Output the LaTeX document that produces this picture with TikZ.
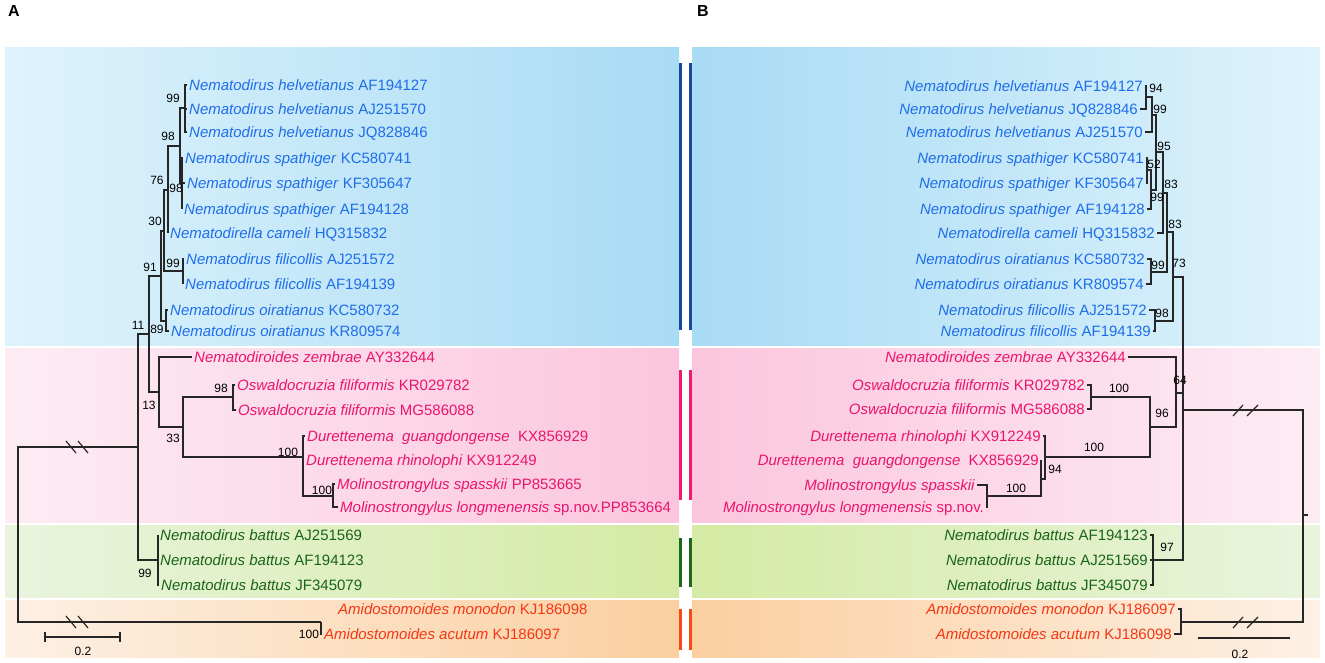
\documentclass[tikz,border=0pt]{standalone}
\usepackage{fontspec}
\setmainfont{Liberation Sans}
\definecolor{bluL}{RGB}{223,243,252}
\definecolor{bluD}{RGB}{168,219,244}
\definecolor{pnkL}{RGB}{253,236,244}
\definecolor{pnkD}{RGB}{251,198,221}
\definecolor{grnL}{RGB}{233,244,222}
\definecolor{grnD}{RGB}{213,234,164}
\definecolor{orgL}{RGB}{253,240,228}
\definecolor{orgD}{RGB}{251,207,160}
\definecolor{txblu}{RGB}{30,110,235}
\definecolor{txpnk}{RGB}{235,20,110}
\definecolor{txgrn}{RGB}{25,100,25}
\definecolor{txorg}{RGB}{245,55,20}
\definecolor{barblu}{RGB}{25,70,165}
\definecolor{barpnk}{RGB}{240,25,110}
\definecolor{bargrn}{RGB}{25,105,30}
\definecolor{barorg}{RGB}{245,75,25}

\begin{document}
\begin{tikzpicture}[x=1pt,y=-1pt,
  tipa/.style={anchor=west,inner sep=2pt,text height=11pt,text depth=0pt,
    font=\fontsize{15}{18}\selectfont},
  tipb/.style={tipa,anchor=east},
  bs/.style={inner sep=0pt,font=\fontsize{12}{14}\selectfont},
  br/.style={line width=1.2pt,black!85},
  elbow/.style={to path={|- (\tikztotarget) \tikztonodes}},
  bar/.style={line width=3pt}]

\useasboundingbox (0,0) rectangle (1325,663);

% colour bands
\shade[left color=bluL,right color=bluD] (5,48) rectangle (679,345);
\shade[left color=pnkL,right color=pnkD] (5,348) rectangle (679,522);
\shade[left color=grnL,right color=grnD] (5,525) rectangle (679,597);
\shade[left color=orgL,right color=orgD] (5,600) rectangle (679,657);
\shade[left color=bluD,right color=bluL] (692,48) rectangle (1320,345);
\shade[left color=pnkD,right color=pnkL] (692,348) rectangle (1320,522);
\shade[left color=grnD,right color=grnL] (692,525) rectangle (1320,597);
\shade[left color=orgD,right color=orgL] (692,600) rectangle (1320,657);

% clade bars
\foreach \x in {680.5,690.5}{
  \draw[bar,barblu] (\x,63) -- (\x,330);
  \draw[bar,barpnk] (\x,370) -- (\x,500);
  \draw[bar,bargrn] (\x,538) -- (\x,587);
  \draw[bar,barorg] (\x,609) -- (\x,650);
}

\node[font=\bfseries\fontsize{16}{18}\selectfont] (pa) at (14,11) {A};
\node[font=\bfseries\fontsize{16}{18}\selectfont] (pb) at (703,11) {B};

% ---- tree A ----
\node[tipa,txblu] (a1) at (187,85) {\textit{Nematodirus helvetianus} AF194127};
\node[tipa,txblu] (a2) at (187,109) {\textit{Nematodirus helvetianus} AJ251570};
\node[tipa,txblu] (a3) at (187,132) {\textit{Nematodirus helvetianus} JQ828846};
\node[tipa,txblu] (a4) at (183,158) {\textit{Nematodirus spathiger} KC580741};
\node[tipa,txblu] (a5) at (185,183) {\textit{Nematodirus spathiger} KF305647};
\node[tipa,txblu] (a6) at (182,209) {\textit{Nematodirus spathiger} AF194128};
\node[tipa,txblu] (a7) at (168,233) {\textit{Nematodirella cameli} HQ315832};
\node[tipa,txblu] (a8) at (184,259) {\textit{Nematodirus filicollis} AJ251572};
\node[tipa,txblu] (a9) at (183,284) {\textit{Nematodirus filicollis} AF194139};
\node[tipa,txblu] (a10) at (168,310) {\textit{Nematodirus oiratianus} KC580732};
\node[tipa,txblu] (a11) at (169,331) {\textit{Nematodirus oiratianus} KR809574};
\node[tipa,txpnk] (a12) at (192,357) {\textit{Nematodiroides zembrae} AY332644};
\node[tipa,txpnk] (a13) at (235,385) {\textit{Oswaldocruzia filiformis} KR029782};
\node[tipa,txpnk] (a14) at (236,410) {\textit{Oswaldocruzia filiformis} MG586088};
\node[tipa,txpnk] (a15) at (305,436) {\textit{Durettenema\ \ guangdongense}\ \ KX856929};
\node[tipa,txpnk] (a16) at (304,460) {\textit{Durettenema rhinolophi} KX912249};
\node[tipa,txpnk] (a17) at (335,484) {\textit{Molinostrongylus spasskii} PP853665};
\node[tipa,txpnk] (a18) at (338,507) {\textit{Molinostrongylus longmenensis} sp.nov.PP853664};
\node[tipa,txgrn] (a19) at (158,535) {\textit{Nematodirus battus} AJ251569};
\node[tipa,txgrn] (a20) at (158,560) {\textit{Nematodirus battus} AF194123};
\node[tipa,txgrn] (a21) at (159,585) {\textit{Nematodirus battus} JF345079};
\node[tipa,txorg] (a22) at (336,609) {\textit{Amidostomoides monodon} KJ186098};
\node[tipa,txorg] (a23) at (322,634) {\textit{Amidostomoides acutum} KJ186097};

\coordinate (nh) at (185,108);
\coordinate (ns) at (182,183);
\coordinate (n98) at (180,146);
\coordinate (n76) at (168,190);
\coordinate (nf) at (183,271);
\coordinate (n30) at (164,231);
\coordinate (no) at (166,321);
\coordinate (n91) at (161,276);
\coordinate (nosw) at (233,397);
\coordinate (nmol) at (333,496);
\coordinate (ndur) at (303,457);
\coordinate (n33) at (183,427);
\coordinate (n13) at (159,392);
\coordinate (n11) at (149,334);
\coordinate (nbat) at (158,560);
\coordinate (nin) at (138,447);
\coordinate (namid) at (321,622);
\coordinate (nroot) at (18,534);

\path[br]
  (nh) edge[elbow] (a1.west) edge[elbow] (a2.west) edge[elbow] (a3.west)
  (ns) edge[elbow] (a4.west) edge[elbow] (a5.west) edge[elbow] (a6.west)
  (n98) edge[elbow] (nh) edge[elbow] (ns)
  (n76) edge[elbow] (n98) edge[elbow] (a7.west)
  (nf) edge[elbow] (a8.west) edge[elbow] (a9.west)
  (n30) edge[elbow] (n76) edge[elbow] (nf)
  (no) edge[elbow] (a10.west) edge[elbow] (a11.west)
  (n91) edge[elbow] (n30) edge[elbow] (no)
  (nosw) edge[elbow] (a13.west) edge[elbow] (a14.west)
  (nmol) edge[elbow] (a17.west) edge[elbow] (a18.west)
  (ndur) edge[elbow] (a15.west) edge[elbow] (a16.west) edge[elbow] (nmol)
  (n33) edge[elbow] (nosw) edge[elbow] (ndur)
  (n13) edge[elbow] (a12.west) edge[elbow] (n33)
  (n11) edge[elbow] (n91) edge[elbow] (n13)
  (nbat) edge[elbow] (a19.west) edge[elbow] (a20.west) edge[elbow] (a21.west)
  (nin) edge[elbow] (n11) edge[elbow] (nbat)
  (namid) edge[elbow] (a23.west)
  (nroot) edge[elbow] (nin) edge[elbow] (namid);

% breaks on the long branches
\draw[br] (66,441) -- (76,453) (78,441) -- (88,453);
\draw[br] (66,616) -- (76,628) (78,616) -- (88,628);

\node[bs] (s1) at (173,98) {99};
\node[bs] (s2) at (168,136) {98};
\node[bs] (s3) at (176,188) {98};
\node[bs] (s4) at (157,180) {76};
\node[bs] (s5) at (155,221) {30};
\node[bs] (s6) at (173,263) {99};
\node[bs] (s7) at (150,267) {91};
\node[bs] (s8) at (157,329) {89};
\node[bs] (s9) at (138,325) {11};
\node[bs] (s10) at (149,405) {13};
\node[bs] (s11) at (173,438) {33};
\node[bs] (s12) at (221,388) {98};
\node[bs] (s13) at (288,452) {100};
\node[bs] (s14) at (322,490) {100};
\node[bs] (s15) at (145,573) {99};
\node[bs] (s16) at (309,634) {100};

% scale bar A
\coordinate (sa1) at (45,637);
\coordinate (sa2) at (120,637);
\draw[br] (sa1) -- (sa2) ([yshift=-5pt]sa1) -- ([yshift=5pt]sa1)
  ([yshift=-5pt]sa2) -- ([yshift=5pt]sa2);
\node[bs] (sca) at (83,651) {0.2};

% ---- tree B ----
\node[tipb,txblu] (b1) at (1145,86) {\textit{Nematodirus helvetianus} AF194127};
\node[tipb,txblu] (b2) at (1140,109) {\textit{Nematodirus helvetianus} JQ828846};
\node[tipb,txblu] (b3) at (1145,132) {\textit{Nematodirus helvetianus} AJ251570};
\node[tipb,txblu] (b4) at (1146,158) {\textit{Nematodirus spathiger} KC580741};
\node[tipb,txblu] (b5) at (1146,183) {\textit{Nematodirus spathiger} KF305647};
\node[tipb,txblu] (b6) at (1147,209) {\textit{Nematodirus spathiger} AF194128};
\node[tipb,txblu] (b7) at (1157,233) {\textit{Nematodirella cameli} HQ315832};
\node[tipb,txblu] (b8) at (1147,259) {\textit{Nematodirus oiratianus} KC580732};
\node[tipb,txblu] (b9) at (1146,284) {\textit{Nematodirus oiratianus} KR809574};
\node[tipb,txblu] (b10) at (1149,310) {\textit{Nematodirus filicollis} AJ251572};
\node[tipb,txblu] (b11) at (1153,331) {\textit{Nematodirus filicollis} AF194139};
\node[tipb,txpnk] (b12) at (1128,357) {\textit{Nematodiroides zembrae} AY332644};
\node[tipb,txpnk] (b13) at (1087,385) {\textit{Oswaldocruzia filiformis} KR029782};
\node[tipb,txpnk] (b14) at (1087,409) {\textit{Oswaldocruzia filiformis} MG586088};
\node[tipb,txpnk] (b15) at (1043,436) {\textit{Durettenema rhinolophi} KX912249};
\node[tipb,txpnk] (b16) at (1041,460) {\textit{Durettenema\ \ guangdongense}\ \ KX856929};
\node[tipb,txpnk] (b17) at (977,485) {\textit{Molinostrongylus spasskii}};
\node[tipb,txpnk] (b18) at (986,507) {\textit{Molinostrongylus longmenensis} sp.nov.};
\node[tipb,txgrn] (b19) at (1150,535) {\textit{Nematodirus battus} AF194123};
\node[tipb,txgrn] (b20) at (1150,560) {\textit{Nematodirus battus} AJ251569};
\node[tipb,txgrn] (b21) at (1150,585) {\textit{Nematodirus battus} JF345079};
\node[tipb,txorg] (b22) at (1178,609) {\textit{Amidostomoides monodon} KJ186097};
\node[tipb,txorg] (b23) at (1174,634) {\textit{Amidostomoides acutum} KJ186098};

\coordinate (m94) at (1146,97);
\coordinate (m99a) at (1152,115);
\coordinate (m52) at (1147,170);
\coordinate (m99b) at (1151,190);
\coordinate (m95) at (1156,152);
\coordinate (m83a) at (1163,193);
\coordinate (m99c) at (1151,272);
\coordinate (m83b) at (1167,232);
\coordinate (m98) at (1155,321);
\coordinate (m73) at (1173,277);
\coordinate (mosw) at (1091,397);
\coordinate (mmol) at (987,496);
\coordinate (m94b) at (1041,479);
\coordinate (mdur) at (1045,457);
\coordinate (m96) at (1150,427);
\coordinate (m64) at (1176,393);
\coordinate (mbat) at (1153,560);
\coordinate (min) at (1183,410);
\coordinate (mamid) at (1181,622);
\coordinate (mroot) at (1303,515);
\coordinate (mstub) at (1308,515);

\path[br]
  (m94) edge[elbow] (b1.east) edge[elbow] (b2.east)
  (m99a) edge[elbow] (m94) edge[elbow] (b3.east)
  (m52) edge[elbow] (b4.east) edge[elbow] (b5.east)
  (m99b) edge[elbow] (m52) edge[elbow] (b6.east)
  (m95) edge[elbow] (m99a) edge[elbow] (m99b)
  (m83a) edge[elbow] (m95) edge[elbow] (b7.east)
  (m99c) edge[elbow] (b8.east) edge[elbow] (b9.east)
  (m83b) edge[elbow] (m83a) edge[elbow] (m99c)
  (m98) edge[elbow] (b10.east) edge[elbow] (b11.east)
  (m73) edge[elbow] (m83b) edge[elbow] (m98)
  (mosw) edge[elbow] (b13.east) edge[elbow] (b14.east)
  (mmol) edge[elbow] (b17.east) edge[elbow] (b18.east)
  (m94b) edge[elbow] (b16.east) edge[elbow] (mmol)
  (mdur) edge[elbow] (b15.east) edge[elbow] (m94b)
  (m96) edge[elbow] (mosw) edge[elbow] (mdur)
  (m64) edge[elbow] (b12.east) edge[elbow] (m96)
  (mbat) edge[elbow] (b19.east) edge[elbow] (b20.east) edge[elbow] (b21.east)
  (min) edge[elbow] (m73) edge[elbow] (m64) edge[elbow] (mbat)
  (mamid) edge[elbow] (b22.east) edge[elbow] (b23.east)
  (mroot) edge[elbow] (min) edge[elbow] (mamid)
  (mroot) edge (mstub);

% breaks on the long branches
\draw[br] (1233,416) -- (1243,405) (1247,416) -- (1258,405);
\draw[br] (1233,628) -- (1243,617) (1247,628) -- (1258,617);

\node[bs] (t1) at (1156,88) {94};
\node[bs] (t2) at (1160,109) {99};
\node[bs] (t3) at (1164,146) {95};
\node[bs] (t4) at (1154,164) {52};
\node[bs] (t5) at (1171,184) {83};
\node[bs] (t6) at (1157,197) {99};
\node[bs] (t7) at (1175,224) {83};
\node[bs] (t8) at (1158,265) {99};
\node[bs] (t9) at (1179,263) {73};
\node[bs] (t10) at (1162,313) {98};
\node[bs] (t11) at (1180,380) {64};
\node[bs] (t12) at (1119,388) {100};
\node[bs] (t13) at (1162,413) {96};
\node[bs] (t14) at (1094,447) {100};
\node[bs] (t15) at (1055,469) {94};
\node[bs] (t16) at (1016,488) {100};
\node[bs] (t17) at (1167,547) {97};

% scale bar B
\coordinate (sb1) at (1198,638);
\coordinate (sb2) at (1290,638);
\draw[br] (sb1) -- (sb2);
\node[bs] (scb) at (1240,654) {0.2};

\end{tikzpicture}
\end{document}
